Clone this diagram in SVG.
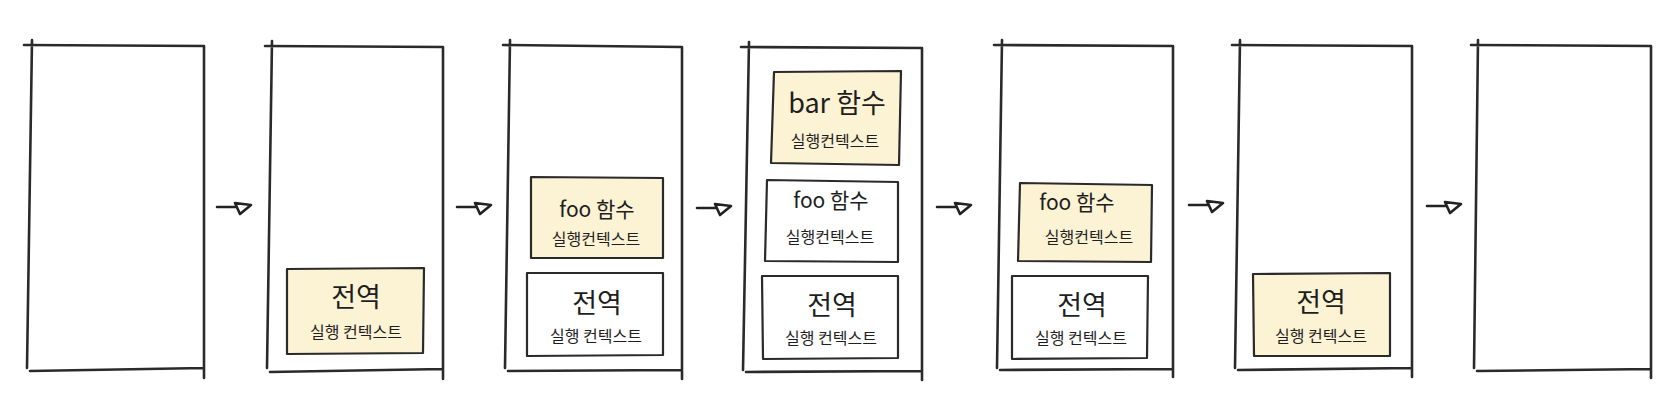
<svg xmlns="http://www.w3.org/2000/svg" width="1680" height="420" viewBox="0 0 1680 420">
<style>
.frame{fill:none;stroke:#2a2a2a;stroke-width:2.6;stroke-linecap:round}
.box{stroke:#2a2a2a;stroke-width:2.2;stroke-linejoin:round}
.yel{fill:#fcf2d4}
.wht{fill:#ffffff}
.arrow{fill:none;stroke:#222;stroke-width:2.6;stroke-linejoin:round;stroke-linecap:round}
text{font-family:"Noto Sans CJK KR","Noto Sans",sans-serif;fill:#1e1e1e;text-anchor:middle;font-weight:400}
.big{font-size:27px}
.fn{font-size:21px}
.sub{font-size:16px}
</style>
<rect width="1680" height="420" fill="#ffffff"/>
<g id="stack1"><path class="frame" d="M24 45 L204 46 M32 40 L27 368 M204 46 L204 378 M30 371 L204 368"/></g>
<g id="stack2">
<path class="frame" d="M265 46 L443 47 M272 41 L267 368 M443 47 L443 379 M270 372 L443 369"/>
<g id="s2-global"><path class="box yel" d="M287 269 L424 268 L423 353 L287 354 Z"/><text class="big" x="356" y="307">전역</text><text class="sub" x="356" y="338">실행 컨텍스트</text></g>
</g>
<g id="stack3">
<path class="frame" d="M503 45 L682 47 M510 40 L505 368 M682 47 L682 379 M508 371 L682 370"/>
<g id="s3-foo"><path class="box yel" d="M531 177 L663 178 L663 258 L531 258 Z"/><text class="fn" x="597" y="217">foo 함수</text><text class="sub" x="596" y="245">실행컨텍스트</text></g>
<g id="s3-global"><path class="box wht" d="M527 273 L663 273 L663 355 L527 356 Z"/><text class="big" x="597" y="313">전역</text><text class="sub" x="596" y="342">실행 컨텍스트</text></g>
</g>
<g id="stack4">
<path class="frame" d="M741 47 L922 48 M749 42 L743 370 M922 48 L922 380 M746 372 L922 371"/>
<g id="s4-bar"><path class="box yel" d="M774 72 L901 71 L899 165 L771 163 Z"/><text class="big" x="837" y="113">bar 함수</text><text class="sub" x="835" y="147">실행컨텍스트</text></g>
<g id="s4-foo"><path class="box wht" d="M767 180 L898 182 L898 262 L765 261 Z"/><text class="fn" x="831" y="208">foo 함수</text><text class="sub" x="830" y="243">실행컨텍스트</text></g>
<g id="s4-global"><path class="box wht" d="M762 276 L898 276 L898 358 L763 359 Z"/><text class="big" x="832" y="315">전역</text><text class="sub" x="831" y="344">실행 컨텍스트</text></g>
</g>
<g id="stack5">
<path class="frame" d="M994 45 L1173 46 M1002 40 L997 368 M1173 46 L1173 377 M1000 370 L1173 369"/>
<g id="s5-foo"><path class="box yel" d="M1020 183 L1152 185 L1151 262 L1018 261 Z"/><text class="fn" x="1077" y="210">foo 함수</text><text class="sub" x="1089" y="243">실행컨텍스트</text></g>
<g id="s5-global"><path class="box wht" d="M1012 276 L1148 276 L1147 358 L1012 359 Z"/><text class="big" x="1082" y="315">전역</text><text class="sub" x="1081" y="344">실행 컨텍스트</text></g>
</g>
<g id="stack6">
<path class="frame" d="M1232 45 L1412 46 M1240 40 L1235 368 M1412 46 L1412 377 M1238 370 L1412 368"/>
<g id="s6-global"><path class="box yel" d="M1253 274 L1390 273 L1390 356 L1254 356 Z"/><text class="big" x="1321" y="312">전역</text><text class="sub" x="1321" y="342">실행 컨텍스트</text></g>
</g>
<g id="stack7"><path class="frame" d="M1471 45 L1651 46 M1478 40 L1474 368 M1651 46 L1651 378 M1477 371 L1651 369"/></g>
<defs>
<path id="arr" class="arrow" d="M0 1 L18 1 M18 -3 L34 -1 L23 8 Z"/>
</defs>
<g id="connectors">
<use href="#arr" x="217" y="206"/>
<use href="#arr" x="457" y="206"/>
<use href="#arr" x="697" y="207"/>
<use href="#arr" x="937" y="206"/>
<use href="#arr" x="1189" y="204"/>
<use href="#arr" x="1427" y="205"/>
</g>
</svg>
